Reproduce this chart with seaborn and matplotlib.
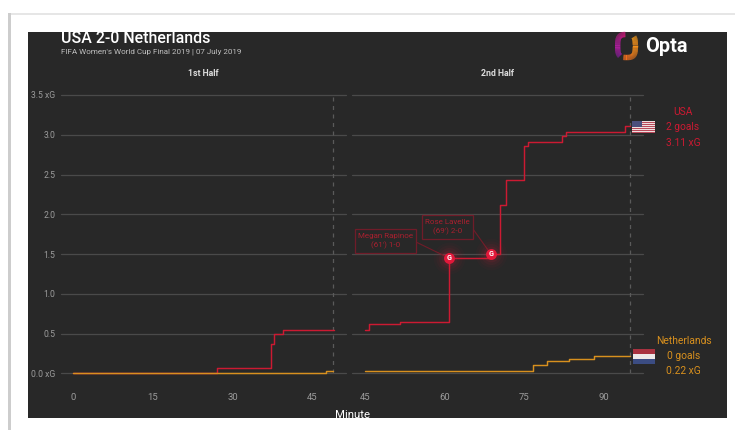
import matplotlib
matplotlib.use("Agg")
import numpy as np
import pandas as pd
import seaborn as sns
import matplotlib.pyplot as plt
from matplotlib.patches import Rectangle
from matplotlib.colors import LinearSegmentedColormap

usa_h1_min = [0, 27, 37.2, 37.8, 39.5, 49]
usa_h1_xg = [0.0, 0.07, 0.37, 0.49, 0.54, 0.54]
usa_h2_min = [45, 45.8, 51.6, 60.8, 68.7, 70.4, 71.6, 74.9, 75.7, 82.1, 82.9, 93.9, 94.9]
usa_h2_xg = [0.54, 0.62, 0.65, 1.45, 1.5, 2.12, 2.43, 2.86, 2.91, 2.985, 3.03, 3.11, 3.11]
ned_h1_min = [0, 47.6, 48.9]
ned_h1_xg = [0.0, 0.03, 0.03]
ned_h2_min = [45, 76.6, 79.3, 83.4, 88.1, 94.9]
ned_h2_xg = [0.03, 0.10, 0.15, 0.18, 0.22, 0.22]
goal_min = [60.8, 68.7]
goal_xg = [1.45, 1.5]
goal_labels = ["Megan Rapinoe\n(61') 1-0", "Rose Lavelle\n(69') 2-0"]
y_ticks = [0, 0.5, 1, 1.5, 2, 2.5, 3, 3.5]
y_labels = ["0.0 xG", "0.5", "1.0", "1.5", "2.0", "2.5", "3.0", "3.5 xG"]
h1_ticks = [0, 15, 30, 45]
h2_ticks = [45, 60, 75, 90]
title = "USA 2-0 Netherlands"
subtitle = "FIFA Women's World Cup Final 2019 | 07 July 2019"
usa_lines = ["USA", "2 goals", "3.11 xG"]
ned_lines = ["Netherlands", "0 goals", "0.22 xG"]

W, H = 735, 430
PANEL, GRID, RED, ORANGE = "#282828", "#4a4a4a", "#cc1a32", "#d8901e"
TICK = "#9c9c9c"
ANNOT_EDGE, ANNOT_TEXT = "#701c29", "#a8202f"

sns.set_theme(style="white")
plt.rcParams["font.family"] = ["Roboto", "DejaVu Sans"]
fig = plt.figure(figsize=(W / 100, H / 100), dpi=100, facecolor="white")

def fx(x): return x / W
def fy(y): return 1 - y / H
def box(x0, y0, x1, y1):
    return [fx(x0), fy(y1), (x1 - x0) / W, (y1 - y0) / H]
def rect(x0, y0, x1, y1, color, z=0, edge="none", lw=0):
    p = Rectangle((fx(x0), fy(y1)), (x1 - x0) / W, (y1 - y0) / H, transform=fig.transFigure,
                  facecolor=color, edgecolor=edge, lw=lw, zorder=z)
    fig.add_artist(p)
    return p
def txt(x, y, s, **kw):
    kw.setdefault("ha", "center"); kw.setdefault("va", "center")
    return fig.text(fx(x), fy(y), s, **kw)

# card shadow and dark panel
rect(8, 13, 735, 14.5, "#e6e6e6", 0)
rect(8, 13, 10.5, 430, "#cdcdcd", 0)
panel = rect(27.5, 32, 727, 417.5, PANEL, 1)

ax1 = fig.add_axes(box(61, 95, 346, 373.3), zorder=2)
ax2 = fig.add_axes(box(352, 95, 643, 373.3), zorder=2)
ax1.set_xlim(-2.26, 51.3)
ax2.set_xlim(42.55, 97.35)

def draw(ax, xs, ys, color):
    df = pd.DataFrame({"minute": xs, "xg": ys})
    sns.lineplot(data=df, x="minute", y="xg", ax=ax, color=color, lw=1.05, drawstyle="steps-post",
                 estimator=None, errorbar=None, zorder=4, clip_on=False)

draw(ax1, usa_h1_min, usa_h1_xg, RED)
draw(ax1, ned_h1_min, ned_h1_xg, ORANGE)
draw(ax2, usa_h2_min, usa_h2_xg, RED)
draw(ax2, ned_h2_min, ned_h2_xg, ORANGE)

for ax, ticks, end in ((ax1, h1_ticks, 48.9), (ax2, h2_ticks, 94.9)):
    ax.patch.set_alpha(0)
    ax.set_ylim(0, 3.5)
    ax.set_xlabel(""); ax.set_ylabel("")
    ax.set_yticks(y_ticks)
    ax.set_xticks(ticks)
    ax.set_xticklabels([str(t) for t in ticks], color=TICK, fontsize=6.8)
    ax.grid(axis="y", color=GRID, lw=0.9, zorder=1)
    ax.grid(axis="x", visible=False)
    ax.set_axisbelow(True)
    ax.tick_params(axis="both", length=0)
    ax.tick_params(axis="x", pad=14)
    ax.axvline(end, ymax=0.995, color="#5a5a5a", lw=0.9, ls=(0, (3.2, 3.6)), zorder=2)
    for s in ax.spines.values():
        s.set_visible(False)
    for g in ax.get_ygridlines():
        g.set_clip_on(False)

ax1.set_yticklabels(y_labels, color=TICK, fontsize=6.2)
ax1.tick_params(axis="y", pad=4)
ax2.set_yticklabels([])

# goal annotations: box, connector, text
boxes = [(354.7, 228.7, 416, 253), (422, 215, 473, 238.5)]
anchors = [(416, 242), (473, 229)]
for lab, gx, gy, b, a in zip(goal_labels, goal_min, goal_xg, boxes, anchors):
    ax2.annotate("", xy=(gx, gy), xycoords="data", xytext=(fx(a[0]), fy(a[1])), textcoords="figure fraction",
                 annotation_clip=False, zorder=3,
                 arrowprops=dict(arrowstyle="-", color=ANNOT_EDGE, lw=0.8, shrinkA=0, shrinkB=0))
    fig.add_artist(Rectangle((fx(b[0]), fy(b[3])), (b[2] - b[0]) / W, (b[3] - b[1]) / H, transform=fig.transFigure,
                             facecolor=PANEL, edgecolor=ANNOT_EDGE, lw=0.9, zorder=3))
    txt((b[0] + b[2]) / 2, (b[1] + b[3]) / 2, lab, color=ANNOT_TEXT, fontsize=5.8, linespacing=1.35, zorder=4)

# goal markers with glow
for r, a in ((520, .03), (360, .045), (230, .06), (130, .09)):
    ax2.scatter(goal_min, goal_xg, s=r, color="#e0203c", alpha=a, lw=0, zorder=5, clip_on=False)
ax2.scatter(goal_min, goal_xg, s=62, color="#e2183a", lw=0, zorder=6, clip_on=False)
for gx, gy in zip(goal_min, goal_xg):
    ax2.text(gx, gy, "G", color="white", fontsize=5.2, fontweight="bold", ha="center", va="center", zorder=7)

# headings
t = txt(61, 38.5, title, ha="left", color="white", fontsize=11.4, fontweight="medium", zorder=3)
t.set_clip_path(panel); t.set_clip_on(True)
txt(61, 52, subtitle, ha="left", color="#c0c0c0", fontsize=5.8, zorder=3)
txt(203, 73, "1st Half", color="#dcdcdc", fontsize=6.3, fontweight="bold", zorder=3)
txt(497, 73, "2nd Half", color="#dcdcdc", fontsize=6.3, fontweight="bold", zorder=3)
m = txt(352, 415, "Minute", color="white", fontsize=8.2, zorder=3)
m.set_clip_path(panel); m.set_clip_on(True)

# team labels
for i, s in enumerate(usa_lines):
    txt(683, 112 + 15.3 * i, s, color=RED, fontsize=7.4, zorder=3)
for i, s in enumerate(ned_lines):
    txt(683.5, 341 + 15 * i, s, color=ORANGE, fontsize=7.4, zorder=3)

# flags
usa = fig.add_axes(box(632, 120.5, 655, 133), zorder=3)
stripes = np.array([[i % 2] for i in range(13)], dtype=float)
usa.imshow(stripes, aspect="auto", cmap=LinearSegmentedColormap.from_list("u", ["#b8495a", "#efe0e0"]),
           extent=(0, 1, 0, 1), interpolation="bilinear")
usa.add_patch(Rectangle((0, 0.46), 0.42, 0.54, color="#4b4f7d", lw=0))
usa.set_xlim(0, 1); usa.set_ylim(0, 1); usa.axis("off")
ned = fig.add_axes(box(633, 348.5, 654.5, 363.5), zorder=3)
for i, c in enumerate(["#3b4c82", "#ece8e8", "#a83240"]):
    ned.add_patch(Rectangle((0, i / 3), 1, 1 / 3, color=c, lw=0))
ned.set_xlim(0, 1); ned.set_ylim(0, 1); ned.axis("off")

# logo: two rounded brackets
logo = fig.add_axes(box(612, 29, 642, 63), zorder=3)
logo.set_xlim(612, 642); logo.set_ylim(63, 29); logo.axis("off")
def bracket(a0, a1, c0, c1):
    th = np.radians(np.linspace(a0, a1, 50))
    n = 0.6
    xs = 626.5 + 8.8 * np.sign(np.cos(th)) * np.abs(np.cos(th)) ** n
    ys = 46 - 11.5 * np.sign(np.sin(th)) * np.abs(np.sin(th)) ** n
    for k in range(49):
        f = k / 48
        col = tuple((1 - f) * np.array(c0) + f * np.array(c1))
        logo.plot(xs[k:k + 2], ys[k:k + 2], color=col, lw=3.9, solid_capstyle="butt")
bracket(92, 232, (0.85, 0.10, 0.50), (0.55, 0.12, 0.65))
bracket(-100, 42, (0.93, 0.42, 0.12), (0.98, 0.62, 0.10))
txt(666, 46, "Opta", color="white", fontsize=14.3, fontweight="bold", zorder=3)

fig.savefig("out.png", dpi=100, facecolor="white")
